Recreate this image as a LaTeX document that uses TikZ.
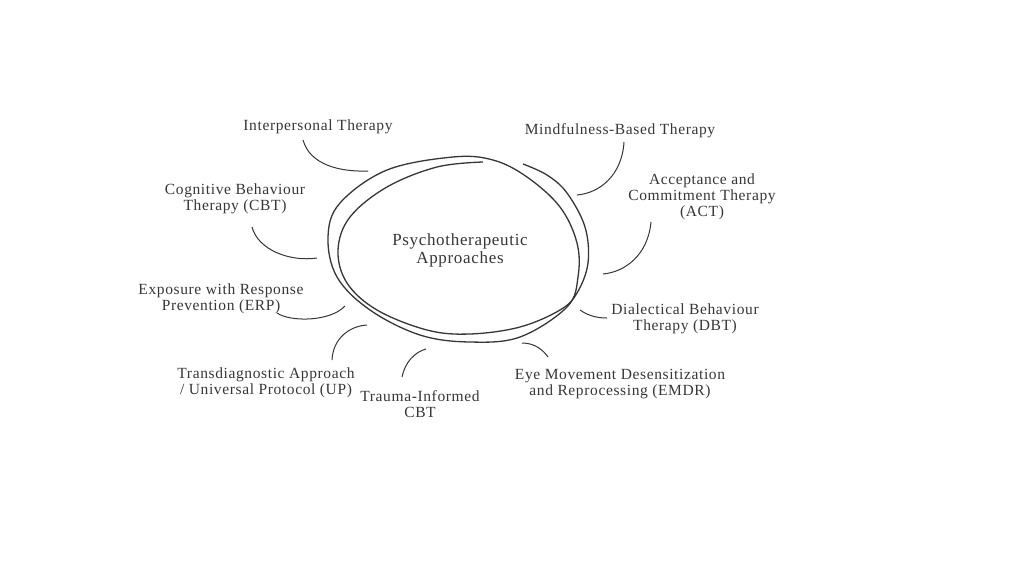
\documentclass[tikz,border=0pt]{standalone}
\usepackage{fontspec}
\setmainfont{Liberation Serif}[LetterSpace=4]
\definecolor{ink}{HTML}{363636}
\tikzset{
  label/.style={align=center,text=ink,font=\fontsize{15.5}{16}\selectfont,inner sep=0pt},
  hub/.style={align=center,text=ink,font=\fontsize{17}{18}\selectfont,inner sep=0pt},
  link/.style={draw=ink,line width=1pt},
  loop/.style={draw=ink,line width=1.3pt}
}
\begin{document}
\begin{tikzpicture}[x=1pt,y=-1pt]
\useasboundingbox (0,0) rectangle (1024,576);
\node[hub] (hub) at (460,250) {Psychotherapeutic\\Approaches};
\draw[loop] plot[smooth cycle,tension=0.6] coordinates {(453,157) (387,170) (340,203) (328,237) (337,277) (370,310) (420,335) (470,342) (520,337) (567,307) (578,277) (577,243) (560,207) (527,177) (493,160)};
\draw[loop] plot[smooth,tension=0.6] coordinates {(483,162) (437,167) (387,187) (350,217) (338,250) (347,283) (377,310) (427,330) (470,334) (520,327) (560,310) (577,293) (588,263) (585,227) (567,193) (547,175) (523,164)};
\node[label] (ipt) at (318,127) {Interpersonal Therapy};
\node[label] (mbt) at (620,131) {Mindfulness-Based Therapy};
\node[label] (act) at (702,197) {Acceptance and\\Commitment Therapy\\(ACT)};
\node[label] (cbt) at (235,199) {Cognitive Behaviour\\Therapy (CBT)};
\node[label] (erp) at (221,299) {Exposure with Response\\Prevention (ERP)};
\node[label] (up) at (266,383) {Transdiagnostic Approach\\/ Universal Protocol (UP)};
\node[label] (tic) at (420,404) {Trauma-Informed\\CBT};
\node[label] (emdr) at (620,384) {Eye Movement Desensitization\\and Reprocessing (EMDR)};
\node[label] (dbt) at (685,319) {Dialectical Behaviour\\Therapy (DBT)};
\coordinate (ipt-a) at (303,140);
\coordinate (ipt-b) at (368,171);
\coordinate (mbt-a) at (624,142);
\coordinate (mbt-b) at (577,195);
\coordinate (act-a) at (651,222);
\coordinate (act-b) at (603,274);
\coordinate (cbt-a) at (252,227);
\coordinate (cbt-b) at (317,258);
\coordinate (erp-a) at (277,313);
\coordinate (erp-b) at (345,306);
\coordinate (up-a) at (332,360);
\coordinate (up-b) at (367,325);
\coordinate (tic-a) at (402,377);
\coordinate (tic-b) at (426,349);
\coordinate (emdr-a) at (548,357);
\coordinate (emdr-b) at (522,343);
\coordinate (dbt-a) at (607,318);
\coordinate (dbt-b) at (580,310);
\draw[link] (ipt-a) .. controls (310,165) and (340,172) .. (ipt-b);
\draw[link] (mbt-a) .. controls (622,175) and (600,193) .. (mbt-b);
\draw[link] (act-a) .. controls (648,255) and (625,272) .. (act-b);
\draw[link] (cbt-a) .. controls (258,250) and (290,262) .. (cbt-b);
\draw[link] (erp-a) .. controls (290,322) and (330,322) .. (erp-b);
\draw[link] (up-a) .. controls (333,338) and (350,326) .. (up-b);
\draw[link] (tic-a) .. controls (405,362) and (415,352) .. (tic-b);
\draw[link] (emdr-a) .. controls (543,350) and (535,343) .. (emdr-b);
\draw[link] (dbt-a) .. controls (600,318) and (590,317) .. (dbt-b);
\end{tikzpicture}
\end{document}
